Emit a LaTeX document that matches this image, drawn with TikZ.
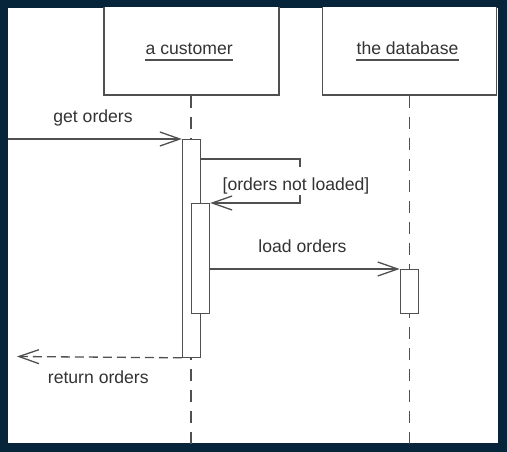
\documentclass[tikz,border=0pt]{standalone}
\usepackage{fontspec}
\setmainfont{Liberation Sans}
\usetikzlibrary{arrows.meta}
\definecolor{frame}{HTML}{06243A}
\definecolor{ink}{HTML}{505050}
\definecolor{txt}{HTML}{333333}
\begin{document}
\begin{tikzpicture}[x=1pt,y=-1pt,
  every node/.style={font=\fontsize{17.6}{21}\selectfont, text=txt, inner sep=0pt},
  objbox/.style={draw=ink, line width=1.3pt, fill=white, minimum height=93pt},
  actbox/.style={draw=ink, line width=1.3pt, fill=white, minimum width=18pt, anchor=north},
  lifeline/.style={draw=ink, line width=1.3pt, dash pattern=on 12pt off 9pt},
  msg/.style={draw=ink, line width=1.3pt, -{Straight Barb[length=20pt,width=14pt]}},
  retmsg/.style={msg, dash pattern=on 9pt off 5pt},
  uline/.style={draw=ink, line width=1.3pt}]
\useasboundingbox (0,0) rectangle (507,452);
\fill[frame] (0,0) rectangle (507,452);
\fill[white] (8,8) rectangle (498.3,443.3);
\begin{scope}
\clip (8,8) rectangle (498.3,443.3);
% objects
\node[objbox, minimum width=175pt] (cbox) at (191.5,48.5) {};
\node[objbox, minimum width=174pt] (dbox) at (409.7,48.5) {};
\node[anchor=base] (cname) at (189.2,55) {a customer};
\node[anchor=base] (dname) at (407.5,55) {the database};
\draw[uline] ([yshift=-5pt]cname.base west) -- ([yshift=-5pt]cname.base east);
\draw[uline] ([yshift=-5pt]dname.base west) -- ([yshift=-5pt]dname.base east);
% lifelines
\coordinate (cend) at (191,452);
\coordinate (dend) at (409.5,452);
\draw[lifeline] (cbox.south -| cend) -- (cend);
\draw[lifeline] (dbox.south -| dend) -- (dend);
% activations
\node[actbox, minimum height=217.5pt] (a1) at (191.5,139) {};
\node[actbox, minimum height=110pt] (a2) at (200.5,203) {};
\node[actbox, minimum height=44pt] (a3) at (409.3,269) {};
% messages
\coordinate (gin) at (0,139);
\draw[msg] (gin) -- (a1.north west);
\coordinate (selfT) at (300,159);
\coordinate (selfB) at (300,203);
\draw[msg] (a1.east |- selfT) -- (selfT) -- (selfB) -- (a2.north east);
\draw[msg] (a2.east |- a3.north) -- (a3.north west);
\coordinate (rend) at (17,356.5);
\draw[retmsg] (a1.south west) -- (rend);
% labels
\node[anchor=base] (lget) at (93,122.7) {get orders};
\node[anchor=base, fill=white, text height=23pt, text depth=5pt, inner xsep=1pt] (lcond) at (296,190) {[orders not loaded]};
\node[anchor=base] (lload) at (302.5,252.7) {load orders};
\node[anchor=base] (lret) at (98.3,383) {return orders};
\end{scope}
\end{tikzpicture}
\end{document}
